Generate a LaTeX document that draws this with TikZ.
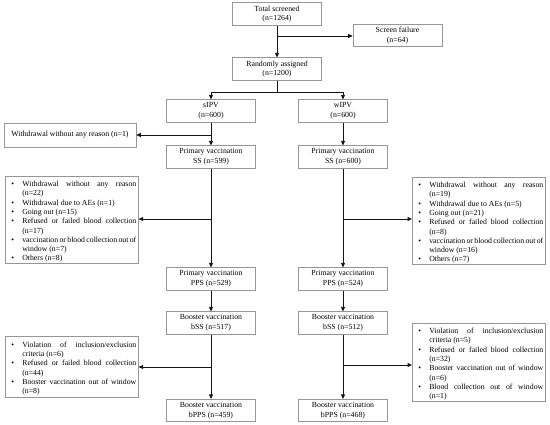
\documentclass[tikz,border=0pt]{standalone}
\usepackage{fontspec}
\setmainfont{Liberation Serif}
\usetikzlibrary{arrows.meta}
\definecolor{boxgray}{RGB}{150,150,150}
\definecolor{linecol}{RGB}{20,20,20}
\newcommand\bitem[1]{\par\noindent\hangindent=15pt\makebox[15pt][l]{\hspace{4pt}\textbullet}#1\par}
\hyphenpenalty=10000
\exhyphenpenalty=10000
\tolerance=10000
\begin{document}
\begin{tikzpicture}[x=1pt,y=-1pt,
  box/.style={draw=boxgray, line width=0.6pt, minimum width=89pt, minimum height=22.5pt, inner sep=1pt, align=center, font=\fontsize{7.8}{9.6}\selectfont},
  listbox/.style={draw=boxgray, line width=0.6pt, anchor=north west, text width=129pt, inner xsep=2pt, inner ysep=1pt, align=justify, font=\fontsize{7.8}{9.3}\selectfont},
  arr/.style={draw=linecol, -{Triangle[length=4.5pt,width=4pt]}, line width=0.8pt},
  ln/.style={draw=linecol, line width=0.8pt}]
\useasboundingbox (0,0) rectangle (550,425);
\fill[white] (0,0) rectangle (550,425);

\node[box] (tot) at (277,14) {Total screened\\(n=1264)};
\node[box] (sf) at (397.5,35.5) {Screen failure\\(n=64)};
\node[box] (ra) at (277,69) {Randomly assigned\\(n=1200)};
\node[box] (sipv) at (211,111) {sIPV\\(n=600)};
\node[box] (wipv) at (343,111) {wIPV\\(n=600)};
\node[box, minimum width=132pt, minimum height=24pt] (w1) at (70,135) {Withdrawal without any reason (n=1)};
\node[box] (pss1) at (211,157) {Primary vaccination\\SS (n=599)};
\node[box] (pss2) at (343,157) {Primary vaccination\\SS (n=600)};
\node[box] (pps1) at (211,279) {Primary vaccination\\PPS (n=529)};
\node[box] (pps2) at (343,279) {Primary vaccination\\PPS (n=524)};
\node[box] (bss1) at (211,323) {Booster vaccination\\bSS (n=517)};
\node[box] (bss2) at (343,323) {Booster vaccination\\bSS (n=512)};
\node[box] (bpps1) at (211,410.5) {Booster vaccination\\bPPS (n=459)};
\node[box] (bpps2) at (343,410.5) {Booster vaccination\\bPPS (n=468)};

\node[listbox, minimum height=86pt] (L1) at (5,176) {%
\bitem{Withdrawal without any reason (n=22)}
\bitem{Withdrawal due to AEs (n=1)}
\bitem{Going out (n=15)}
\bitem{Refused or failed blood collection (n=17)}
\bitem{vaccination or blood collection out of window (n=7)}
\bitem{Others (n=8)}};
\node[listbox, minimum height=86pt] (R1) at (412,177) {%
\bitem{Withdrawal without any reason (n=19)}
\bitem{Withdrawal due to AEs (n=5)}
\bitem{Going out (n=21)}
\bitem{Refused or failed blood collection (n=8)}
\bitem{vaccination or blood collection out of window (n=16)}
\bitem{Others (n=7)}};
\node[listbox, minimum height=61pt] (L2) at (5,336) {%
\bitem{Violation of inclusion/exclusion criteria (n=6)}
\bitem{Refused or failed blood collection (n=44)}
\bitem{Booster vaccination out of window (n=8)}};
\node[listbox, minimum height=76pt] (R2) at (412,323) {%
\bitem{Violation of inclusion/exclusion criteria (n=5)}
\bitem{Refused or failed blood collection (n=32)}
\bitem{Booster vaccination out of window (n=6)}
\bitem{Blood collection out of window\linebreak (n=1)}};

% connectors
\draw[arr] (tot) -- (ra);
\coordinate (c1) at (277,36);
\draw[arr] (c1) -- (sf.west |- c1);
\coordinate (br) at (277,92);
\draw[ln] (ra.south) -- (br);
\draw[arr] (br) -| (sipv.north);
\draw[arr] (br) -| (wipv.north);

\draw[arr] (sipv) -- (pss1);
\draw[arr] (sipv.south |- w1.east) -- (w1.east);
\draw[arr] (wipv) -- (pss2);

\draw[arr] (pss1) -- (pps1);
\coordinate (j1) at (211,219);
\draw[arr] (j1) -- (L1.east |- j1);
\draw[arr] (pss2) -- (pps2);
\coordinate (j2) at (343,219);
\draw[arr] (j2) -- (R1.west |- j2);

\draw[arr] (pps1) -- (bss1);
\draw[arr] (pps2) -- (bss2);

\draw[arr] (bss1) -- (bpps1);
\coordinate (j3) at (211,367);
\draw[arr] (j3) -- (L2.east |- j3);
\draw[arr] (bss2) -- (bpps2);
\coordinate (j4) at (343,365);
\draw[arr] (j4) -- (R2.west |- j4);
\end{tikzpicture}
\end{document}
